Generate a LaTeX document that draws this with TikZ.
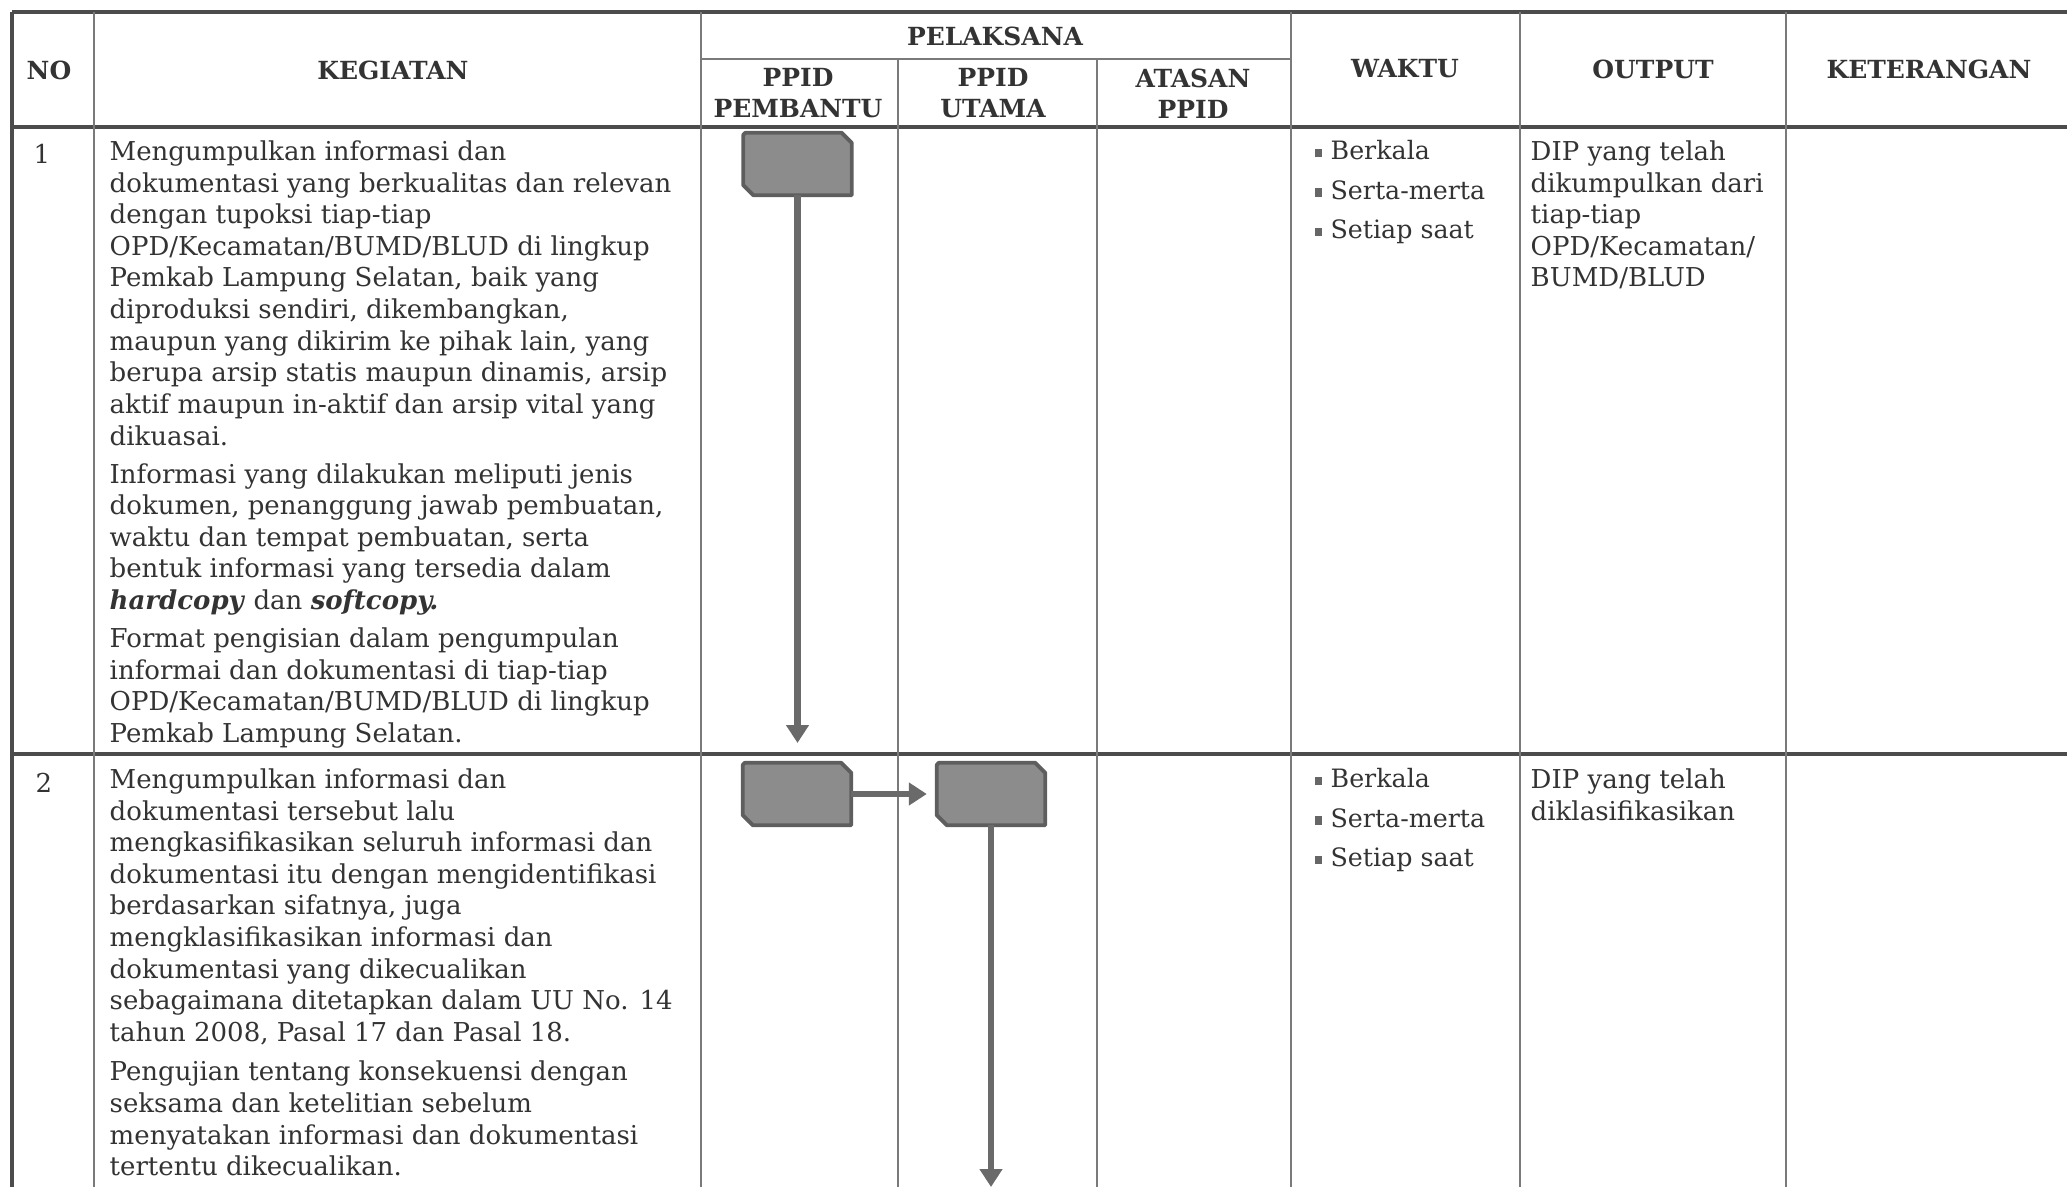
\documentclass[tikz,border=0pt]{standalone}
\usepackage{fontspec}
\setmainfont{DejaVu Serif}
\usepackage{xcolor}
\usetikzlibrary{arrows.meta}

\definecolor{gridline}{HTML}{7A7A7A}
\definecolor{boxfill}{HTML}{8C8C8C}
\definecolor{boxline}{HTML}{5E5E5E}
\definecolor{flowline}{HTML}{6A6A6A}
\definecolor{inktext}{HTML}{333333}
\newcommand{\sqbul}{\textcolor{black!60}{\rule[0.1em]{0.3em}{0.34em}}\hspace{0.33em}}

\begin{document}
\begin{tikzpicture}[
    every node/.style={text=inktext, font=\fontsize{7.4}{9.0}\selectfont},
    head/.style={font=\fontsize{7.1}{8.8}\selectfont\bfseries, align=center},
    cell/.style={anchor=north west, inner sep=0pt, align=left},
    timecell/.style={cell, font=\fontsize{7.2}{11.2}\selectfont},
    task/.style={rectangle, inner sep=0pt, minimum width=1.07cm, minimum height=0.61cm},
    taskshape/.style={fill=boxfill, draw=boxline, line width=1.1pt, line join=round},
    flow/.style={line width=1.8pt, draw=flowline, -{Triangle[length=1.8mm,width=2.2mm]}},
    thin/.style={draw=gridline, line width=0.4pt},
    heavy/.style={draw=black!70, line width=0.9pt}
]
    \useasboundingbox (0,0) rectangle (20.67,-11.87);
    % Table frame
    \draw[heavy] (0.12,-0.12) -- (20.67,-0.12);
    \draw[heavy] (0.12,-1.27) -- (20.67,-1.27);
    \draw[heavy] (0.12,-7.54) -- (20.67,-7.54);
    \draw[heavy] (0.12,-0.12) -- (0.12,-11.87);
    \draw[thin] (7.01,-0.59) -- (12.91,-0.59);
    % Column lines
    \foreach \x in {0.94,7.01,12.91,15.20,17.86} {%
        \draw[thin] (\x,-0.12) -- (\x,-11.87);
    }
    \foreach \x in {8.98,10.97} {%
        \draw[thin] (\x,-0.59) -- (\x,-11.87);
    }
    % Header
    \node[head] (hno) at (0.49,-0.70) {NO};
    \node[head] (hkeg) at (3.93,-0.70) {KEGIATAN};
    \node[head] (hpel) at (9.95,-0.36) {PELAKSANA};
    \node[head] (hpemb) at (7.98,-0.935) {PPID\\PEMBANTU};
    \node[head] (hutama) at (9.93,-0.935) {PPID\\UTAMA};
    \node[head] (hatasan) at (11.93,-0.935) {ATASAN\\PPID};
    \node[head] (hwaktu) at (14.05,-0.69) {WAKTU};
    \node[head] (hout) at (16.53,-0.69) {OUTPUT};
    \node[head] (hket) at (19.29,-0.69) {KETERANGAN};
    % Row 1
    \node (no1) at (0.42,-1.54) {1};
    \node[cell] (keg1) at (1.09,-1.40) {Mengumpulkan informasi dan\\
        dokumentasi yang berkualitas dan relevan\\
        dengan tupoksi tiap-tiap\\
        OPD/Kecamatan/BUMD/BLUD di lingkup\\
        Pemkab Lampung Selatan, baik yang\\
        diproduksi sendiri, dikembangkan,\\
        maupun yang dikirim ke pihak lain, yang\\
        berupa arsip statis maupun dinamis, arsip\\
        aktif maupun in-aktif dan arsip vital yang\\
        dikuasai.\\[1.8pt]
        Informasi yang dilakukan meliputi jenis\\
        dokumen, penanggung jawab pembuatan,\\
        waktu dan tempat pembuatan, serta\\
        bentuk informasi yang tersedia dalam\\
        \textbf{\textit{hardcopy}} dan \textbf{\textit{softcopy.}}\\[1.8pt]
        Format pengisian dalam pengumpulan\\
        informai dan dokumentasi di tiap-tiap\\
        OPD/Kecamatan/BUMD/BLUD di lingkup\\
        Pemkab Lampung Selatan.};
    \node[timecell] (waktu1) at (13.14,-1.40) {\sqbul Berkala\\ \sqbul Serta-merta\\ \sqbul Setiap saat};
    \node[cell] (out1) at (15.30,-1.40) {DIP yang telah\\ dikumpulkan dari\\ tiap-tiap\\ OPD/Kecamatan/\\ BUMD/BLUD};
    % Row 2
    \node (no2) at (0.44,-7.83) {2};
    \node[cell] (keg2) at (1.09,-7.68) {Mengumpulkan informasi dan\\
        dokumentasi tersebut lalu\\
        mengkasifikasikan seluruh informasi dan\\
        dokumentasi itu dengan mengidentifikasi\\
        berdasarkan sifatnya, juga\\
        mengklasifikasikan informasi dan\\
        dokumentasi yang dikecualikan\\
        sebagaimana ditetapkan dalam UU No. 14\\
        tahun 2008, Pasal 17 dan Pasal 18.\\[2.2pt]
        Pengujian tentang konsekuensi dengan\\
        seksama dan ketelitian sebelum\\
        menyatakan informasi dan dokumentasi\\
        tertentu dikecualikan.};
    \node[timecell] (waktu2) at (13.14,-7.68) {\sqbul Berkala\\ \sqbul Serta-merta\\ \sqbul Setiap saat};
    \node[cell] (out2) at (15.30,-7.68) {DIP yang telah\\ diklasifikasikan};
    % Flow boxes
    \node[task] (b1) at (7.975,-1.64) {};
    \node[task] (b2a) at (7.97,-7.94) {};
    \node[task] (b2b) at (9.91,-7.94) {};
    \foreach \b in {b1,b2a,b2b} {%
        \filldraw[taskshape] ([xshift=0.6pt]\b.north west) -- ([xshift=-1mm]\b.north east)
            -- ([yshift=-1mm]\b.north east) -- (\b.south east) -- ([xshift=1mm]\b.south west)
            -- ([yshift=1mm]\b.south west) -- ([yshift=-0.6pt]\b.north west) -- cycle;
    }
    \coordinate (e1) at (7.975,-7.43);
    \coordinate (e2) at (9.91,-11.87);
    % Arrows
    \draw[flow] (b1.south) -- (e1);
    \draw[flow, shorten >=1mm] (b2a.east) -- (b2b.west);
    \draw[flow] (b2b.south) -- (e2);
\end{tikzpicture}
\end{document}
